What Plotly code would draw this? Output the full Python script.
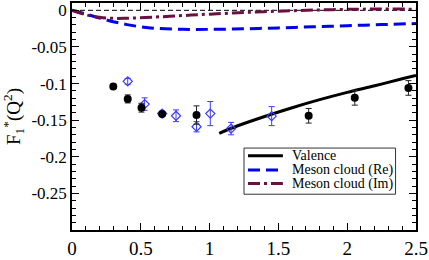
import plotly.graph_objects as go

# Lattice data (filled black circles)
lat1_x = [0.30, 0.405, 0.505, 0.655, 0.905, 1.72, 2.055, 2.445]
lat1_y = [-0.104, -0.121, -0.133, -0.1415, -0.143, -0.144, -0.1195, -0.106]
lat1_err = [0.003, 0.0055, 0.006, 0.003, 0.0125, 0.010, 0.010, 0.010]

# Lattice data (open blue diamonds)
lat2_x = [0.405, 0.528, 0.655, 0.756, 0.905, 1.005, 1.156, 1.451]
lat2_y = [-0.097, -0.128, -0.141, -0.144, -0.159, -0.141, -0.1615, -0.1445]
lat2_err = [0.004, 0.0085, 0.003, 0.008, 0.007, 0.0165, 0.0085, 0.013]

# Valence curve
val_x = [1.07, 1.2, 1.4, 1.6, 1.8, 2.0, 2.2, 2.4, 2.5]
val_y = [-0.168, -0.158, -0.145, -0.133, -0.122, -0.112, -0.103, -0.0935, -0.089]

# Meson cloud (Re)
re_x = [0, 0.1, 0.2, 0.3, 0.4, 0.5, 0.6, 0.8, 1.0, 1.25, 1.5, 1.75, 2.0, 2.25, 2.5]
re_y = [0, -0.005, -0.0105, -0.0155, -0.0195, -0.0225, -0.0245, -0.026, -0.026,
        -0.0252, -0.024, -0.0225, -0.021, -0.0195, -0.018]

# Meson cloud (Im)
im_x = [0, 0.1, 0.2, 0.3, 0.4, 0.6, 0.8, 1.0, 1.25, 1.5, 1.75, 2.0, 2.25, 2.5]
im_y = [0, -0.006, -0.0095, -0.011, -0.0108, -0.0092, -0.0072, -0.0052, -0.003,
        -0.0012, 0.0003, 0.0013, 0.0018, 0.0015]

zero_x = [0, 2.5]
zero_y = [0, 0]

xtick_vals = [0, 0.5, 1, 1.5, 2, 2.5]
xtick_text = ["0", "0.5", "1", "1.5", "2", "2.5"]
ytick_vals = [0, -0.05, -0.1, -0.15, -0.2, -0.25]
ytick_text = ["0", "-0.05", "-0.1", "-0.15", "-0.2", "-0.25"]

legend_names = ["Valence", "Meson cloud (Re)", "Meson cloud (Im)"]
legend_colors = ["black", "#0000ee", "#6b1040"]
legend_dashes = ["solid", "12px,6px", "12px,4px,3px,4px"]

FONT = "Liberation Serif, Times New Roman, serif"
W, H = 429, 260
ML, MR, MT, MB = 72, 12, 1, 18
PW, PH = W - ML - MR, H - MT - MB


def px(xp):
    return (xp - ML) / PW


def py(yp):
    return (H - MB - yp) / PH


fig = go.Figure()
fig.add_trace(go.Scatter(x=zero_x, y=zero_y, mode="lines", showlegend=False,
                         line=dict(color="black", width=1, dash="5px,3px"), hoverinfo="skip"))
fig.add_trace(go.Scatter(x=val_x, y=val_y, mode="lines", name=legend_names[0], showlegend=False,
                         line=dict(color=legend_colors[0], width=3, shape="spline")))
fig.add_trace(go.Scatter(x=re_x, y=re_y, mode="lines", name=legend_names[1], showlegend=False,
                         line=dict(color=legend_colors[1], width=3, dash=legend_dashes[1],
                                   shape="spline")))
fig.add_trace(go.Scatter(x=im_x, y=im_y, mode="lines", name=legend_names[2], showlegend=False,
                         line=dict(color=legend_colors[2], width=3, dash=legend_dashes[2],
                                   shape="spline")))
fig.add_trace(go.Scatter(x=lat2_x, y=lat2_y, mode="markers", showlegend=False,
                         marker=dict(symbol="diamond-open", size=7, color="#3c3cff",
                                     line=dict(width=1.2, color="#3c3cff")),
                         error_y=dict(type="data", array=lat2_err, color="#3c3cff",
                                      thickness=1, width=3)))
fig.add_trace(go.Scatter(x=lat1_x, y=lat1_y, mode="markers", showlegend=False,
                         marker=dict(symbol="circle", size=8, color="black"),
                         error_y=dict(type="data", array=lat1_err, color="#222222",
                                      thickness=1, width=3)))

axis_common = dict(showline=True, linecolor="black", linewidth=1.5, mirror="allticks",
                   ticks="inside", tickcolor="black", showgrid=False, zeroline=False)

fig.update_xaxes(range=[0, 2.5], tickvals=xtick_vals, ticktext=xtick_text, ticklen=7,
                 tickfont=dict(family=FONT, size=19, color="black"),
                 minor=dict(ticks="inside", dtick=0.1, ticklen=4, tickcolor="black"),
                 **axis_common)
fig.update_yaxes(range=[-0.3, 0.01], tickvals=ytick_vals, ticktext=ytick_text, ticklen=7,
                 tickfont=dict(family=FONT, size=17, color="black"),
                 minor=dict(ticks="inside", dtick=0.01, ticklen=4, tickcolor="black"),
                 title=dict(text="F<sub>1</sub><sup>*</sup>(Q<sup>2</sup>)",
                            font=dict(family=FONT, size=19, color="black"), standoff=6),
                 **axis_common)

# Legend box drawn in paper space
shapes = [dict(type="rect", xref="paper", yref="paper",
               x0=px(244.5), x1=px(396.5), y0=py(204), y1=py(155),
               line=dict(color="#333333", width=1), fillcolor="white", layer="above")]
annotations = []
row_y = [163.3, 178.3, 192.7]
for name, col, dash, ry in zip(legend_names, legend_colors, legend_dashes, row_y):
    shapes.append(dict(type="line", xref="paper", yref="paper",
                       x0=px(248.5), x1=px(283.5), y0=py(ry), y1=py(ry),
                       line=dict(color=col, width=3, dash=dash), layer="above"))
    annotations.append(dict(xref="paper", yref="paper", x=px(290.5), y=py(ry),
                            xanchor="left", yanchor="middle", text=name, showarrow=False,
                            font=dict(family=FONT, size=14, color="black")))

fig.update_layout(
    width=W, height=H,
    margin=dict(l=ML, r=MR, t=MT, b=MB),
    plot_bgcolor="white", paper_bgcolor="white",
    font=dict(family=FONT, color="black"),
    showlegend=False,
    shapes=shapes, annotations=annotations,
)

fig.write_html("out.html", config={"displayModeBar": False},
               post_script="document.body.style.margin='0';document.body.style.padding='0';")
